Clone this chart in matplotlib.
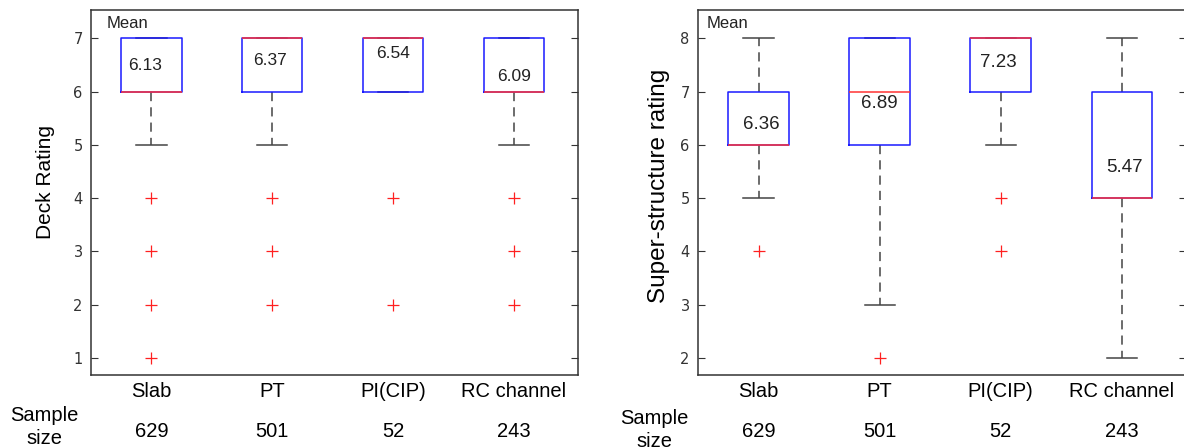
import matplotlib
matplotlib.use('Agg')
import matplotlib.pyplot as plt
import matplotlib.transforms as mtransforms

plt.rcParams['font.family'] = ['Liberation Sans', 'DejaVu Sans']

# categories and sample sizes
categories = ['Slab', 'PT', 'PI(CIP)', 'RC channel']
sample_size = [629, 501, 52, 243]

# Deck rating box stats
deck_q1 = [6, 6, 6, 6]
deck_q3 = [7, 7, 7, 7]
deck_med = [6, 7, 7, 6]
deck_lo = [5, 5, 6, 5]
deck_hi = [7, 7, 7, 7]
deck_fliers = [[4, 3, 2, 1], [4, 3, 2], [4, 2], [4, 3, 2]]
deck_mean = [6.13, 6.37, 6.54, 6.09]

# Super-structure rating box stats
sup_q1 = [6, 6, 7, 5]
sup_q3 = [7, 8, 8, 7]
sup_med = [6, 7, 8, 5]
sup_lo = [5, 3, 6, 2]
sup_hi = [8, 8, 8, 8]
sup_fliers = [[4], [2], [5, 4], []]
sup_mean = [6.36, 6.89, 7.23, 5.47]

# where the mean labels sit inside the boxes (layout only)
deck_lab_y = [6.49, 6.59, 6.72, 6.29]
deck_lab_dx = [-0.05, -0.02, 0.0, 0.0]
sup_lab_y = [6.39, 6.78, 7.55, 5.58]
sup_lab_dx = [0.02, 0.0, -0.02, 0.02]

W, H = 1184, 448
fig = plt.figure(figsize=(W / 100, H / 100), dpi=100)


def px_axes(x0, x1, y0, y1):
    return fig.add_axes([x0 / W, 1 - y1 / H, (x1 - x0) / W, (y1 - y0) / H])


def draw_panel(ax, q1, q3, med, lo, hi, fliers, means, lab_y, lab_dx, ylim, yticks,
               ylabel, ylabel_size, mean_size, label_xy, mean_x):
    stats = []
    for i in range(len(categories)):
        stats.append(dict(label=categories[i], q1=q1[i], q3=q3[i], med=med[i],
                          whislo=lo[i], whishi=hi[i], fliers=fliers[i]))
    pos = list(range(1, len(categories) + 1))
    ax.bxp(stats, positions=pos, widths=0.5, showfliers=True,
           boxprops=dict(color='#1a1aff', linewidth=1.1, zorder=3),
           medianprops=dict(color='#ff3333', linewidth=1.1, zorder=4),
           whiskerprops=dict(color='#444444', linewidth=1.1, linestyle=(0, (6, 4)), zorder=2),
           capprops=dict(color='#444444', linewidth=1.1, zorder=2),
           flierprops=dict(marker='+', markeredgecolor='#ff2020', markersize=8,
                           markeredgewidth=0.9, linestyle='none'))
    ax.set_xlim(0.5, 4.53)
    ax.set_ylim(*ylim)
    ax.set_xticks([])
    ax.set_yticks(yticks)
    ax.tick_params(axis='y', direction='in', length=5, right=True, labelsize=10.5,
                   labelcolor='#333333', color='#333333', pad=6)
    ax.set_yticklabels([str(t) for t in yticks], family='DejaVu Sans')
    for s in ax.spines.values():
        s.set_color('#333333')
        s.set_linewidth(1.1)
    ax.set_ylabel(ylabel, fontsize=ylabel_size)
    ax.yaxis.set_label_coords(*label_xy)
    ax.text(mean_x, 0.962, 'Mean', transform=ax.transAxes, fontsize=12,
            ha='left', va='center', color='#222222')
    for i, m in enumerate(means):
        ax.text(pos[i] + lab_dx[i], lab_y[i], f'{m:.2f}', fontsize=mean_size,
                ha='center', va='center', color='#222222')
    tr = mtransforms.blended_transform_factory(ax.transData, ax.transAxes)
    for i, c in enumerate(categories):
        ax.text(pos[i], -0.045, c, transform=tr, fontsize=14.5, ha='center', va='center')
        ax.text(pos[i], -0.155, str(sample_size[i]), transform=tr, fontsize=14.5,
                ha='center', va='center')


ax1 = px_axes(91, 578, 10, 375)
draw_panel(ax1, deck_q1, deck_q3, deck_med, deck_lo, deck_hi, deck_fliers,
           deck_mean, deck_lab_y, deck_lab_dx, (0.68, 7.53), [1, 2, 3, 4, 5, 6, 7],
           'Deck Rating', 15, 12.5, (-0.074, 0.529), 0.032)

ax2 = px_axes(698, 1186, 10, 375)
draw_panel(ax2, sup_q1, sup_q3, sup_med, sup_lo, sup_hi, sup_fliers,
           sup_mean, sup_lab_y, sup_lab_dx, (1.68, 8.53), [2, 3, 4, 5, 6, 7, 8],
           'Super-structure rating', 17.5, 13.5, (-0.057, 0.518), 0.018)

fig.text(44 / W, 1 - 427 / H, 'Sample\nsize', fontsize=14.5, ha='center', va='center',
         linespacing=1.25)
fig.text(654 / W, 1 - 430 / H, 'Sample\nsize', fontsize=14.5, ha='center', va='center',
         linespacing=1.25)

fig.savefig('out.png', dpi=100)
